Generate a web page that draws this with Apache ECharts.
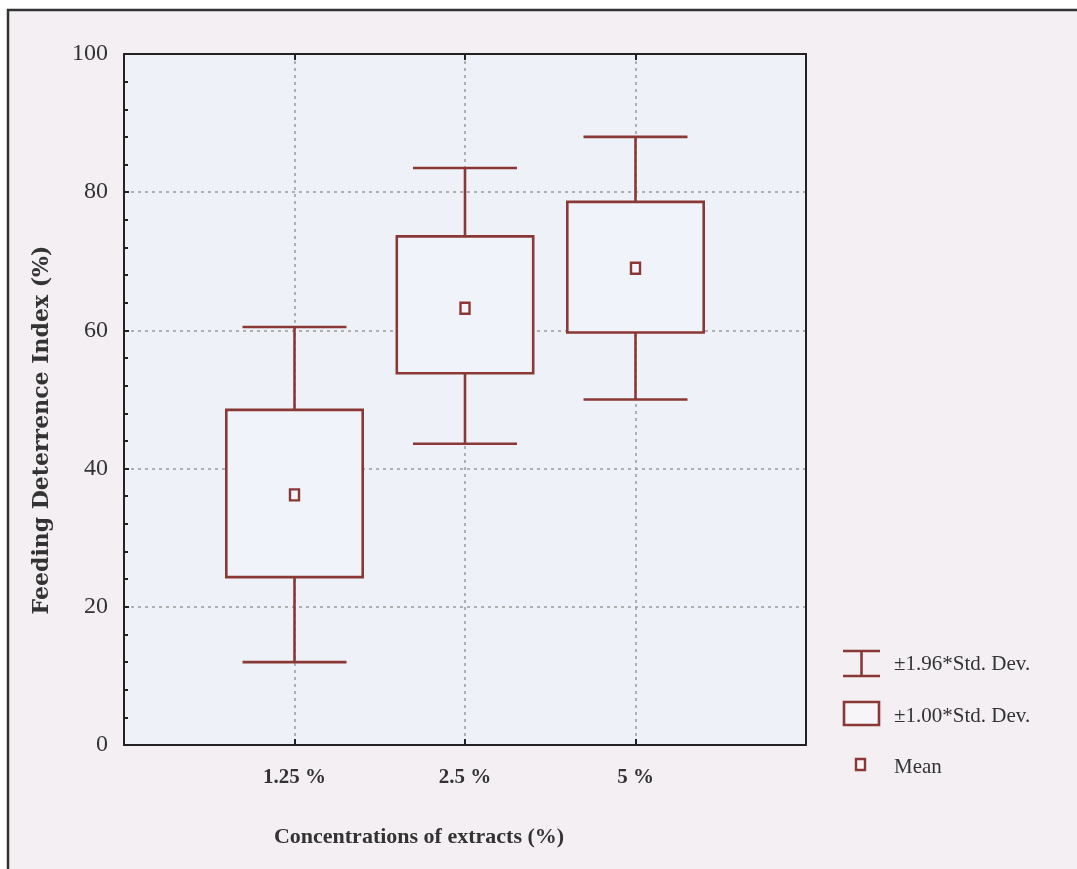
<!DOCTYPE html>
<html>
<head>
<meta charset="utf-8">
<script src="https://cdn.jsdelivr.net/npm/echarts@6/dist/echarts.min.js"></script>
<style>
html,body{margin:0;padding:0;background:#fff;}
#chart{width:1077px;height:869px;}
</style>
</head>
<body>
<div id="chart"></div>
<script>
// ---- data ----
const categories = ['1.25 %', '2.5 %', '5 %'];
const whiskerLow  = [12.0, 43.6, 50.0];   // mean - 1.96*SD
const boxLow      = [24.3, 53.8, 59.7];   // mean - 1.00*SD
const means       = [36.2, 63.2, 69.0];   // mean
const boxHigh     = [48.5, 73.6, 78.6];   // mean + 1.00*SD
const whiskerHigh = [60.5, 83.5, 88.0];   // mean + 1.96*SD
const yTicks = [0, 20, 40, 60, 80, 100];
const legendLabels = ['\u00b11.96*Std. Dev.', '\u00b11.00*Std. Dev.', 'Mean'];
const yTitle = 'Feeding Deterrence Index (%)';
const xTitle = 'Concentrations of extracts (%)';

const boxData = categories.map((c, i) => [i + 1, whiskerLow[i], boxLow[i], means[i], boxHigh[i], whiskerHigh[i]]);

const STROKE = '#8a3835';
const PLOTBG = '#eef2f8';
const SERIF = '"Liberation Serif", "Times New Roman", serif';
const AXISCOL = '#222';

const chart = echarts.init(document.getElementById('chart'));

function renderBox(params, api) {
  const x = api.value(0);
  const pWL = api.coord([x, api.value(1)]);
  const pBL = api.coord([x, api.value(2)]);
  const pM  = api.coord([x, api.value(3)]);
  const pBH = api.coord([x, api.value(4)]);
  const pWH = api.coord([x, api.value(5)]);
  const boxW = api.size([0.8, 0])[0];
  const capW = api.size([0.61, 0])[0];
  const cx = pM[0];
  const ls = {stroke: STROKE, lineWidth: 2.6, fill: null};
  return {
    type: 'group',
    children: [
      {type: 'line', shape: {x1: cx, y1: pWH[1], x2: cx, y2: pBH[1]}, style: ls},
      {type: 'line', shape: {x1: cx, y1: pBL[1], x2: cx, y2: pWL[1]}, style: ls},
      {type: 'line', shape: {x1: cx - capW / 2, y1: pWH[1], x2: cx + capW / 2, y2: pWH[1]}, style: ls},
      {type: 'line', shape: {x1: cx - capW / 2, y1: pWL[1], x2: cx + capW / 2, y2: pWL[1]}, style: ls},
      {type: 'rect', shape: {x: cx - boxW / 2, y: pBH[1], width: boxW, height: pBL[1] - pBH[1]},
        style: {stroke: STROKE, lineWidth: 2.6, fill: '#f0f3f9'}},
      {type: 'rect', shape: {x: cx - 4.5, y: pM[1] - 5.5, width: 9, height: 11},
        style: {stroke: STROKE, lineWidth: 2.4, fill: '#f4f5fa'}}
    ]
  };
}

const dashed = {show: true, showMinLine: false, showMaxLine: false,
  lineStyle: {color: '#9a9a9a', type: [3, 4], width: 1.5}};

const option = {
  backgroundColor: '#ffffff',
  animation: false,
  grid: {
    left: 124, top: 54, width: 682, height: 691,
    show: true, backgroundColor: PLOTBG, borderColor: AXISCOL, borderWidth: 0
  },
  xAxis: [{
    type: 'value', min: 0, max: 4, interval: 1, position: 'bottom',
    axisLine: {show: true, onZero: false, lineStyle: {color: AXISCOL, width: 2}},
    axisTick: {show: true, inside: true, length: 6, lineStyle: {color: AXISCOL, width: 2}},
    axisLabel: {
      margin: 22, fontFamily: SERIF, fontSize: 21, fontWeight: 'bold', color: '#333',
      formatter: v => (v >= 1 && v <= categories.length) ? categories[v - 1] : ''
    },
    splitLine: dashed
  }, {
    type: 'value', min: 0, max: 4, interval: 1, position: 'top',
    axisLine: {show: true, onZero: false, lineStyle: {color: AXISCOL, width: 2}},
    axisTick: {show: true, inside: true, length: 6, lineStyle: {color: AXISCOL, width: 2}},
    axisLabel: {show: false},
    splitLine: {show: false}
  }],
  yAxis: [{
    type: 'value', min: yTicks[0], max: yTicks[yTicks.length - 1], interval: 20, position: 'left',
    axisLine: {show: true, onZero: false, lineStyle: {color: AXISCOL, width: 2}},
    axisTick: {show: true, inside: true, length: 5, lineStyle: {color: AXISCOL, width: 2}},
    minorTick: {show: true, splitNumber: 5, length: 4, lineStyle: {color: AXISCOL, width: 2}},
    axisLabel: {margin: 16, fontFamily: SERIF, fontSize: 24, color: '#333'},
    splitLine: dashed
  }, {
    type: 'value', min: yTicks[0], max: yTicks[yTicks.length - 1], interval: 20, position: 'right',
    axisLine: {show: true, onZero: false, lineStyle: {color: AXISCOL, width: 2}},
    axisTick: {show: false},
    axisLabel: {show: false},
    splitLine: {show: false}
  }],
  series: [{
    type: 'custom',
    renderItem: renderBox,
    encode: {x: 0, y: [1, 2, 3, 4, 5]},
    data: boxData,
    z: 5
  }],
  graphic: [
    // outer frame
    {type: 'rect', z: -100, silent: true, shape: {x: 8, y: 10, width: 1200, height: 1000},
      style: {fill: '#f3eff2', stroke: '#333', lineWidth: 2.5}},
    // y axis title
    {type: 'text', z: 10, x: 42, y: 430, rotation: Math.PI / 2,
      style: {text: yTitle, fontFamily: '"DejaVu Serif", serif', fontSize: 22, fontWeight: 'bold',
        fill: '#333', align: 'center', verticalAlign: 'middle'}},
    // x axis title
    {type: 'text', z: 10, x: 419, y: 837,
      style: {text: xTitle, fontFamily: SERIF, fontSize: 22, fontWeight: 'bold',
        fill: '#333', align: 'center', verticalAlign: 'middle'}},
    // legend
    {type: 'group', z: 10, children: [
      {type: 'line', shape: {x1: 843, y1: 651, x2: 880, y2: 651}, style: {stroke: STROKE, lineWidth: 2.6}},
      {type: 'line', shape: {x1: 843, y1: 676, x2: 880, y2: 676}, style: {stroke: STROKE, lineWidth: 2.6}},
      {type: 'line', shape: {x1: 861.5, y1: 651, x2: 861.5, y2: 676}, style: {stroke: STROKE, lineWidth: 2.6}},
      {type: 'text', x: 894, y: 664, style: {text: legendLabels[0], fontFamily: SERIF, fontSize: 21,
        fill: '#333', align: 'left', verticalAlign: 'middle'}},
      {type: 'rect', shape: {x: 844, y: 702, width: 35, height: 23}, style: {stroke: STROKE, lineWidth: 2.6, fill: '#f7f5f8'}},
      {type: 'text', x: 894, y: 716, style: {text: legendLabels[1], fontFamily: SERIF, fontSize: 21,
        fill: '#333', align: 'left', verticalAlign: 'middle'}},
      {type: 'rect', shape: {x: 856, y: 759, width: 9, height: 11}, style: {stroke: STROKE, lineWidth: 2.4, fill: '#f7f5f8'}},
      {type: 'text', x: 894, y: 767, style: {text: legendLabels[2], fontFamily: SERIF, fontSize: 21,
        fill: '#333', align: 'left', verticalAlign: 'middle'}}
    ]}
  ]
};
chart.setOption(option);
</script>
</body>
</html>
